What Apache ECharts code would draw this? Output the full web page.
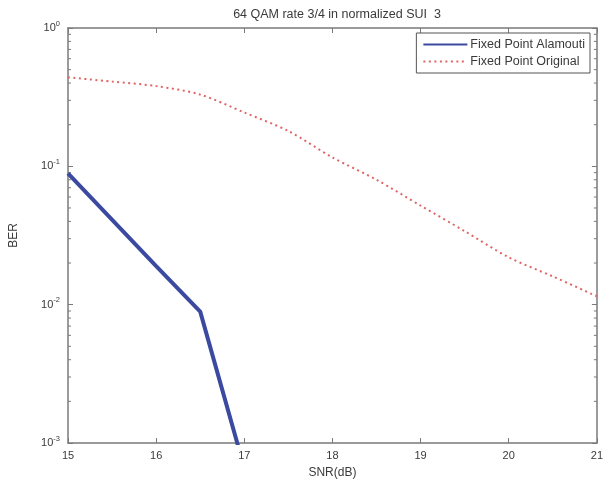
<!DOCTYPE html>
<html><head><meta charset="utf-8">
<script src="https://cdn.jsdelivr.net/npm/echarts@6/dist/echarts.min.js"></script>
<style>html,body{margin:0;padding:0;background:#fff}#c{width:606px;height:484px}</style>
</head><body><div id="c"></div>
<script>
const titleText = '64 QAM rate 3/4 in normalized SUI  3';
const xName = 'SNR(dB)';
const yName = 'BER';
const seriesNames = ['Fixed Point Alamouti', 'Fixed Point Original'];
const alamoutiSNR = [15, 16, 16.5, 17];
const alamoutiBER = [0.089, 0.019, 0.0089, 0.00066];
const originalSNR = [15, 15.5, 16, 16.5, 17, 17.5, 18, 18.5, 19, 19.5, 20, 20.5, 21];
const originalBER = [0.44, 0.41, 0.38, 0.33, 0.245, 0.18, 0.116, 0.08, 0.052, 0.034, 0.022, 0.016, 0.0115];
const xTicks = [15, 16, 17, 18, 19, 20, 21];
const yDecades = [0.001, 0.01, 0.1, 1];
const minorTickValues = [];
for (const d of [0.001, 0.01, 0.1]) for (let k = 2; k <= 9; k++) minorTickValues.push(+(d * k).toPrecision(3));

const txt = '#3a3a3a', axc = '#7a7a7a';
const font = 'Liberation Sans';
const chart = echarts.init(document.getElementById('c'));
chart.setOption({
  animation: false,
  backgroundColor: '#fff',
  title: {text: titleText, left: 332, top: 3, textAlign: 'center',
    textStyle: {fontSize: 12.5, fontWeight: 'normal', color: txt, fontFamily: font}},
  grid: {left: 68, right: 9, top: 28, bottom: 39, containLabel: false},
  legend: {
    orient: 'vertical', right: 16, top: 33, itemGap: 4, itemWidth: 44, itemHeight: 12,
    borderColor: '#555', borderWidth: 1, padding: [5, 5, 5, 6], backgroundColor: '#fff',
    itemStyle: {opacity: 0},
    textStyle: {fontSize: 12.5, color: txt, fontFamily: font, padding: [0, 0, 0, -2]},
    data: seriesNames
  },
  xAxis: [{
    type: 'value', min: 15, max: 21, interval: 1, position: 'bottom',
    name: xName, nameLocation: 'middle', nameGap: 24,
    nameTextStyle: {fontSize: 12, color: txt, fontFamily: font},
    axisLine: {lineStyle: {color: axc, width: 1.5}},
    axisTick: {inside: true, length: 5, lineStyle: {color: axc}},
    axisLabel: {fontSize: 11, color: txt, fontFamily: font, margin: 7,
      formatter: v => xTicks.includes(v) ? String(v) : ''},
    splitLine: {show: false}
  }, {
    type: 'value', min: 15, max: 21, interval: 1, position: 'top',
    axisLine: {lineStyle: {color: axc, width: 1.5}},
    axisTick: {inside: true, length: 5, lineStyle: {color: axc}},
    axisLabel: {show: false}, splitLine: {show: false}
  }],
  yAxis: [{
    type: 'log', logBase: 10, min: 0.001, max: 1, position: 'left',
    name: yName, nameLocation: 'middle', nameGap: 48, nameRotate: 90,
    nameTextStyle: {fontSize: 12, color: txt, fontFamily: font},
    axisLine: {lineStyle: {color: axc, width: 1.5}},
    axisTick: {inside: true, length: 5, lineStyle: {color: axc}},
    axisLabel: {color: txt, fontFamily: font, margin: 8,
      formatter: v => '{b|10}{s|' + Math.round(Math.log10(v)) + '}',
      rich: {b: {fontSize: 11, color: txt, fontFamily: font},
             s: {fontSize: 7.5, color: txt, fontFamily: font, padding: [0, 0, 9, 0]}}},
    splitLine: {show: false}
  }, {
    type: 'log', logBase: 10, min: 0.001, max: 1, position: 'right',
    axisLine: {lineStyle: {color: axc, width: 1.5}},
    axisTick: {inside: true, length: 5, lineStyle: {color: axc}},
    axisLabel: {show: false}, splitLine: {show: false}
  }],
  series: [{
    name: seriesNames[0], type: 'line', xAxisIndex: 0, yAxisIndex: 0,
    data: alamoutiSNR.map((x, i) => [x, alamoutiBER[i]]),
    symbol: 'none', clip: true,
    lineStyle: {color: '#3b4aa0', width: 4}, itemStyle: {color: '#3b4aa0'}
  }, {
    name: seriesNames[1], type: 'line', xAxisIndex: 0, yAxisIndex: 0,
    data: originalSNR.map((x, i) => [x, originalBER[i]]),
    symbol: 'none', smooth: 0.3, clip: true,
    lineStyle: {color: '#e06464', width: 2, type: [2, 3.5]}, itemStyle: {color: '#e06464'}
  }, {
    name: 'minorTicks', type: 'custom', xAxisIndex: 0, yAxisIndex: 0, silent: true, clip: false,
    data: minorTickValues.map(v => [15, v]),
    renderItem: (params, api) => {
      const v = api.value(1);
      const l = api.coord([15, v]);
      const r = api.coord([21, v]);
      const st = {stroke: axc, lineWidth: 1};
      return {type: 'group', children: [
        {type: 'line', shape: {x1: l[0], y1: l[1], x2: l[0] + 3, y2: l[1]}, style: st},
        {type: 'line', shape: {x1: r[0], y1: r[1], x2: r[0] - 3, y2: r[1]}, style: st}
      ]};
    }
  }]
});
</script></body></html>
